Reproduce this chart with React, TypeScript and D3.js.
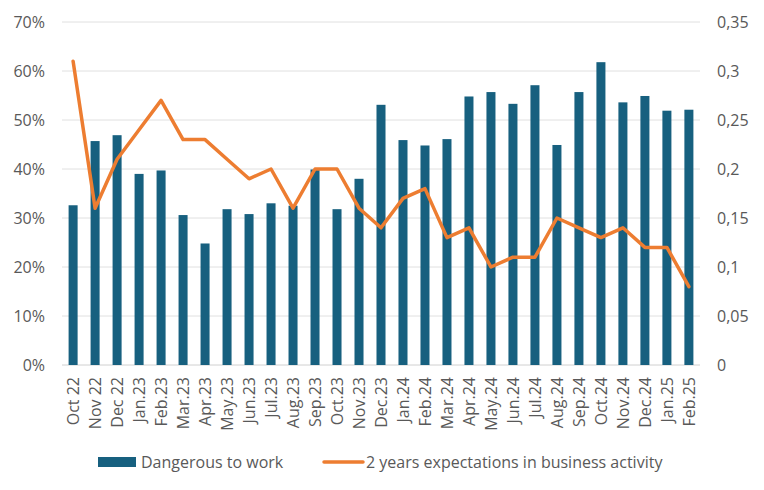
import React from 'react';
import * as d3 from 'd3';

const months = [
    'Oct 22', 'Nov 22', 'Dec 22', 'Jan.23', 'Feb.23', 'Mar.23', 'Apr.23', 'May.23', 'Jun.23', 'Jul.23',
    'Aug.23', 'Sep.23', 'Oct.23', 'Nov.23', 'Dec.23', 'Jan.24', 'Feb.24', 'Mar.24', 'Apr.24', 'May.24',
    'Jun.24', 'Jul.24', 'Aug.24', 'Sep.24', 'Oct.24', 'Nov.24', 'Dec.24', 'Jan.25', 'Feb.25',
];
// Anteil "Dangerous to work" (linke Achse)
const dangerous = [
    0.326, 0.457, 0.469, 0.39, 0.397, 0.306, 0.248, 0.318, 0.308, 0.33,
    0.325, 0.399, 0.318, 0.38, 0.531, 0.459, 0.448, 0.461, 0.548, 0.557,
    0.533, 0.571, 0.449, 0.557, 0.618, 0.536, 0.549, 0.519, 0.521,
];
// 2-Jahres-Erwartung (rechte Achse)
const expectations = [
    0.31, 0.16, 0.21, 0.24, 0.27, 0.23, 0.23, 0.21, 0.19, 0.20,
    0.16, 0.20, 0.20, 0.16, 0.14, 0.17, 0.18, 0.13, 0.14, 0.10,
    0.11, 0.11, 0.15, 0.14, 0.13, 0.14, 0.12, 0.12, 0.08,
];
const leftTicks = [0, 0.1, 0.2, 0.3, 0.4, 0.5, 0.6, 0.7];
const rightTicks = [0, 0.05, 0.1, 0.15, 0.2, 0.25, 0.3, 0.35];

const W = 764;
const H = 490;
const left = 62;
const right = 700;
const top = 22;
const bottom = 365;
const barColor = '#17607f';
const lineColor = '#ed7d31';
const textColor = '#595959';
const font = '"Open Sans", "Liberation Sans", Arial, sans-serif';
const fs = 16;

const App: React.FC = () => {
    const x = d3.scaleBand<string>().domain(months).range([left, right]).paddingInner(0.59).paddingOuter(0.3);
    const yL = d3.scaleLinear().domain([0, 0.7]).range([bottom, top]);
    const yR = d3.scaleLinear().domain([0, 0.35]).range([bottom, top]);
    const cx = (m: string) => x(m)! + x.bandwidth() / 2;

    const line = d3.line<number>()
        .x((_, i) => cx(months[i]))
        .y(d => yR(d));

    const pct = d3.format('.0%');
    const rightFmt = (v: number) => (v === 0 ? '0' : String(+v.toFixed(2)).replace('.', ','));

    return (
        <svg width={W} height={H} style={{position: 'absolute', left: 0, top: 0}} fontFamily={font}>
            <rect width={W} height={H} fill="#fff"/>
            {/* Gitterlinien */}
            {leftTicks.map(t => (
                <line key={t} x1={left} x2={right} y1={yL(t)} y2={yL(t)}
                      stroke={t === 0 ? '#d0d0d0' : '#e0e0e0'} strokeWidth={1}/>
            ))}
            {leftTicks.map(t => (
                <text key={'l' + t} x={45} y={yL(t)} dy="0.35em" textAnchor="end" fontSize={fs} fill={textColor}>
                    {pct(t)}
                </text>
            ))}
            {rightTicks.map(t => (
                <text key={'r' + t} x={717} y={yR(t)} dy="0.35em" textAnchor="start" fontSize={fs} fill={textColor}>
                    {rightFmt(t)}
                </text>
            ))}
            {/* Balken */}
            {months.map((m, i) => (
                <rect key={m} x={x(m)} y={yL(dangerous[i])} width={x.bandwidth()}
                      height={bottom - yL(dangerous[i])} fill={barColor}/>
            ))}
            {/* Linie */}
            <path d={line(expectations)!} fill="none" stroke={lineColor} strokeWidth={3.5}
                  strokeLinejoin="round" strokeLinecap="round"/>
            {/* Monatslabels */}
            {months.map(m => (
                <text key={'x' + m} transform={`translate(${cx(m)},377) rotate(-90)`} dy="0.35em"
                      textAnchor="end" fontSize={fs} fill={textColor}>
                    {m}
                </text>
            ))}
            {/* Legende */}
            <rect x={98} y={457} width={38} height={10} fill={barColor}/>
            <text x={141} y={462} dy="0.35em" fontSize={fs} fill={textColor}>Dangerous to work</text>
            <line x1={324} x2={363} y1={462} y2={462} stroke={lineColor} strokeWidth={3.5} strokeLinecap="round"/>
            <text x={366} y={462} dy="0.35em" fontSize={fs} fill={textColor}>2 years expectations in business activity</text>
        </svg>
    );
};

export default App;
